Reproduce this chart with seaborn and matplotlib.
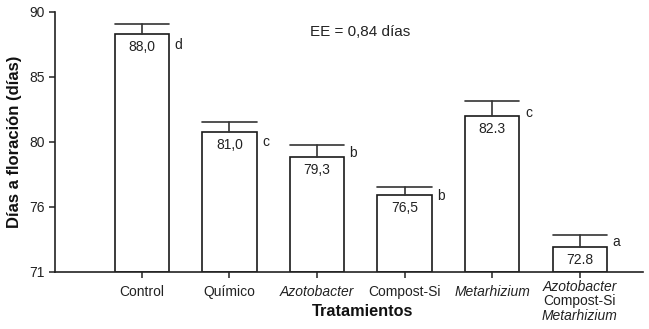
import matplotlib
matplotlib.use("Agg")
import matplotlib.pyplot as plt
import matplotlib.transforms as mtransforms
import seaborn as sns
import pandas as pd
import numpy as np

# ---- data ----
categories = ["Control", "Químico", "Azotobacter", "Compost-Si", "Metarhizium",
              "Azotobacter\nCompost-Si\nMetarhizium"]
values = [88.4, 81.2, 79.4, 76.6, 82.4, 72.8]
errors = [0.73, 0.73, 0.9, 0.6, 1.1, 0.9]
value_labels = ["88,0", "81,0", "79,3", "76,5", "82.3", "72.8"]
letters = ["d", "c", "b", "b", "c", "a"]
y_tick_labels = ["71", "76", "80", "85", "90"]
ee_text = "EE = 0,84 días"

sns.set_theme(style="ticks")
plt.rcParams['font.family'] = ['Liberation Sans', 'DejaVu Sans']

df = pd.DataFrame({"cat": categories, "val": values})

fig = plt.figure(figsize=(6.49, 3.29), dpi=100)
ax = fig.add_axes([55/649, 1-272/329, (643-55)/649, (272-12)/329])

sns.barplot(data=df, x="cat", y="val", ax=ax, color="white", edgecolor="black",
            linewidth=1.2, width=0.62, errorbar=None)

# rebase bars at axis bottom (71)
ymin, ymax = 71, 90
for p in ax.patches:
    h = p.get_height()
    p.set_y(ymin)
    p.set_height(h - ymin)
    p.set_facecolor("white")
    p.set_edgecolor("#1a1a1a")

xs = list(range(len(categories)))
half = 0.31
for x, v, e in zip(xs, values, errors):
    ax.plot([x, x], [v, v + e], color="#333333", lw=1.2, zorder=3)
    ax.plot([x - half, x + half], [v + e, v + e], color="#333333", lw=1.2, zorder=3)

letter_dy = [-11, -10, 4, -1, 3, 5]
for x, v, lab, let, dy in zip(xs, values, value_labels, letters, letter_dy):
    ax.annotate(lab, (x, v), xytext=(0, -13), textcoords="offset pixels",
                ha="center", va="center", fontsize=10, color="#222222")
    ax.annotate(let, (x + half, v), xytext=(9, dy), textcoords="offset pixels",
                ha="center", va="center", fontsize=10, color="#222222")

ax.set_ylim(ymin, ymax)
ax.set_xlim(-0.99, 5.72)
# ticks are evenly spaced along the axis in the original
tick_pos = np.linspace(ymin, ymax, len(y_tick_labels))
ax.set_yticks(tick_pos)
ax.set_yticklabels(y_tick_labels, fontsize=10, color="#222222")
ax.set_xticks(xs)
ax.set_xticklabels([""] * len(xs))
ax.tick_params(axis="both", direction="out", length=4, width=1.1, color="#222222")

for s in ["top", "right"]:
    ax.spines[s].set_visible(False)
for s in ["left", "bottom"]:
    ax.spines[s].set_linewidth(1.2)
    ax.spines[s].set_color("#222222")

# custom x tick labels with mixed styles
trans = mtransforms.blended_transform_factory(ax.transData, fig.transFigure)
styles = {"Azotobacter": "italic", "Metarhizium": "italic"}
for x, cat in zip(xs, categories):
    lines = cat.split("\n")
    for i, line in enumerate(lines):
        ypx = 292 + i * 14.5 - (0 if len(lines) == 1 else 5)
        ax.text(x, 1 - ypx / 329, line, transform=trans, ha="center", va="center",
                fontsize=10, style=styles.get(line, "normal"), color="#222222")

ax.set_xlabel("")
ax.set_ylabel("")
fig.text(363/649, 1 - 311/329, "Tratamientos", ha="center", va="center",
         fontsize=11.7, fontweight="bold", color="#111111")
fig.text(15/649, 1 - 142/329, "Días a floración (días)", ha="center", va="center",
         rotation=90, fontsize=12, fontweight="bold", color="#111111")
fig.text(360/649, 1 - 32/329, ee_text, ha="center", va="center", fontsize=11,
         color="#222222")

fig.savefig("out.png", dpi=100)
